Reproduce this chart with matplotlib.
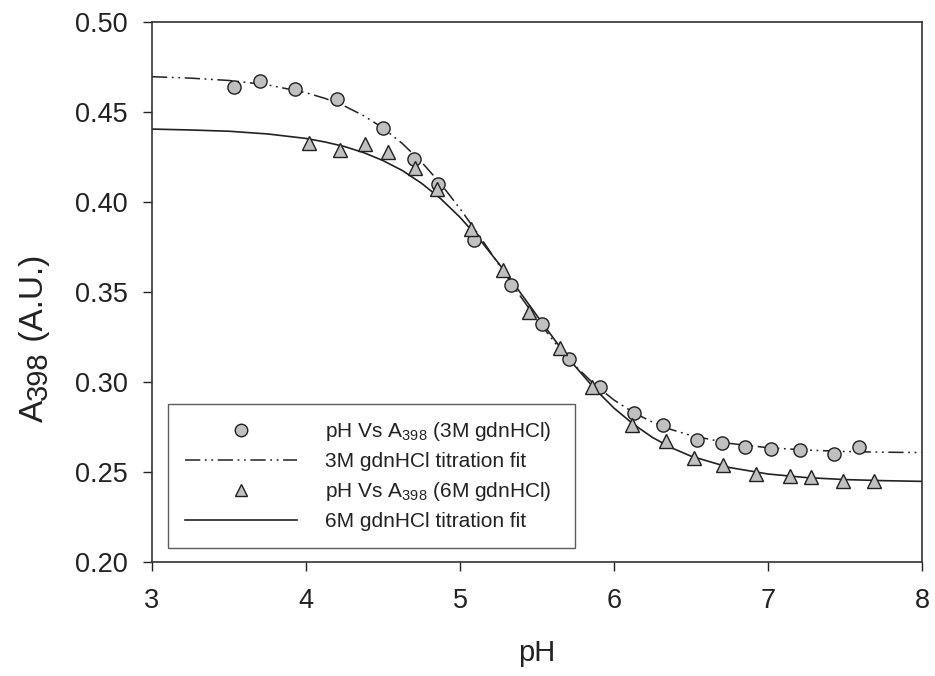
import matplotlib
matplotlib.use("Agg")
import matplotlib.pyplot as plt
from matplotlib.lines import Line2D

plt.rcParams['font.family'] = ['Liberation Sans', 'DejaVu Sans']
plt.rcParams['mathtext.fontset'] = 'custom'
plt.rcParams['mathtext.rm'] = 'Liberation Sans'
plt.rcParams['mathtext.it'] = 'Liberation Sans'

# measured points, 3M gdnHCl
ph_3m = [3.53, 3.70, 3.93, 4.20, 4.50, 4.70, 4.86, 5.09, 5.33, 5.53, 5.71, 5.91,
         6.13, 6.32, 6.54, 6.70, 6.85, 7.02, 7.21, 7.43, 7.59]
a_3m = [0.464, 0.467, 0.463, 0.457, 0.441, 0.424, 0.410, 0.379, 0.354, 0.332, 0.313, 0.297,
        0.283, 0.276, 0.268, 0.266, 0.264, 0.263, 0.262, 0.260, 0.264]

# measured points, 6M gdnHCl
ph_6m = [4.02, 4.22, 4.38, 4.53, 4.71, 4.85, 5.07, 5.28, 5.45, 5.65, 5.86,
         6.12, 6.34, 6.52, 6.71, 6.92, 7.14, 7.28, 7.49, 7.69]
a_6m = [0.433, 0.429, 0.432, 0.428, 0.419, 0.407, 0.385, 0.362, 0.339, 0.319, 0.297,
        0.276, 0.267, 0.258, 0.254, 0.249, 0.248, 0.247, 0.245, 0.245]

# titration fit curves
fit_ph_3m = [3.0, 3.25, 3.5, 3.75, 4.0, 4.125, 4.25, 4.375, 4.5, 4.625, 4.75, 4.875,
             5.0, 5.125, 5.25, 5.375, 5.5, 5.625, 5.75, 5.875, 6.0, 6.125, 6.25, 6.375,
             6.5, 6.75, 7.0, 7.25, 7.5, 7.75, 8.0]
fit_a_3m = [0.4696, 0.4688, 0.4675, 0.4651, 0.4607, 0.4575, 0.4533, 0.4479, 0.4411, 0.4325,
            0.4222, 0.4101, 0.3963, 0.3813, 0.3655, 0.3497, 0.3347, 0.3209, 0.3088, 0.2985,
            0.2900, 0.2831, 0.2777, 0.2735, 0.2703, 0.2659, 0.2635, 0.2622, 0.2614, 0.2610,
            0.2608]

fit_ph_6m = [3.0, 3.25, 3.5, 3.75, 4.0, 4.125, 4.25, 4.375, 4.5, 4.625, 4.75, 4.875,
             5.0, 5.125, 5.25, 5.375, 5.5, 5.625, 5.75, 5.875, 6.0, 6.125, 6.25, 6.375,
             6.5, 6.75, 7.0, 7.25, 7.5, 7.75, 8.0]
fit_a_6m = [0.4405, 0.4400, 0.4393, 0.4378, 0.4353, 0.4333, 0.4308, 0.4274, 0.4230, 0.4175,
            0.4104, 0.4018, 0.3915, 0.3795, 0.3660, 0.3516, 0.3368, 0.3222, 0.3085, 0.2962,
            0.2855, 0.2766, 0.2692, 0.2634, 0.2588, 0.2525, 0.2489, 0.2469, 0.2458, 0.2452,
            0.2448]

W, H = 935, 676
fig = plt.figure(figsize=(W / 100, H / 100), dpi=100)
ax = fig.add_axes([0.1626, 0.1686, 0.8235, 0.7989])

grey = '#c0c0c0'
ink = '#222222'
dashdot = (10, 3, 1.2, 3, 1.2, 3)
ax.plot(ph_3m, a_3m, 'o', ms=9.5, mfc=grey, mec='#202020', mew=1.0, zorder=3)
ax.plot(fit_ph_3m, fit_a_3m, color=ink, lw=1.1, dashes=dashdot, zorder=2)
ax.plot(ph_6m, a_6m, '^', ms=10, mfc=grey, mec='#202020', mew=1.0, zorder=3)
ax.plot(fit_ph_6m, fit_a_6m, color=ink, lw=1.2, zorder=2)

ax.set_xlim(3, 8)
ax.set_ylim(0.20, 0.50)
ax.set_xticks([3, 4, 5, 6, 7, 8])
ax.set_yticks([0.20, 0.25, 0.30, 0.35, 0.40, 0.45, 0.50])
ax.set_yticklabels(['0.20', '0.25', '0.30', '0.35', '0.40', '0.45', '0.50'])
ax.tick_params(direction='out', length=6.5, width=1, labelsize=19.5, colors=ink)
ax.tick_params(axis='x', pad=12)
ax.tick_params(axis='y', pad=11)
for s in ax.spines.values():
    s.set_linewidth(1.2)
    s.set_color('#333333')

ax.set_xlabel('pH', fontsize=21, color=ink, va='top')
ax.xaxis.set_label_coords(0.5, -0.143)

# y label: A with a lowered 398, built from pieces
fig.canvas.draw()
r = fig.canvas.get_renderer()
bx, by = 43, 422  # baseline x, bottom y in pixels
pieces = [('A', 24, 0), ('398', 21, 4), (' (A.U.)', 24, 0)]
y = by
for txt, size, drop in pieces:
    t = fig.text((bx + drop) / W, 1 - y / H, txt, fontsize=size, color=ink,
                 rotation=90, rotation_mode='anchor', ha='left', va='baseline')
    ext = t.get_window_extent(r)
    y -= ext.height

handles = [
    Line2D([], [], ls='none', marker='o', ms=9, mfc=grey, mec='#202020'),
    Line2D([], [], color=ink, lw=1.1, dashes=dashdot),
    Line2D([], [], ls='none', marker='^', ms=9, mfc=grey, mec='#202020'),
    Line2D([], [], color=ink, lw=1.2),
]
labels = ['pH Vs A$_{398}$ (3M gdnHCl)', '3M gdnHCl titration fit',
          'pH Vs A$_{398}$ (6M gdnHCl)', '6M gdnHCl titration fit']
leg = ax.legend(handles, labels, loc='lower left', mode='expand',
                bbox_to_anchor=(0.0208, 0.0259, 0.5286, 0.27),
                fontsize=15, handlelength=5.4, handletextpad=1.35, labelspacing=0.43,
                borderpad=0.8, frameon=True, fancybox=False, borderaxespad=0)
leg.get_frame().set_edgecolor('#333333')
leg.get_frame().set_linewidth(1.0)
for t in leg.get_texts():
    t.set_color(ink)

fig.savefig('out.png', dpi=100)
